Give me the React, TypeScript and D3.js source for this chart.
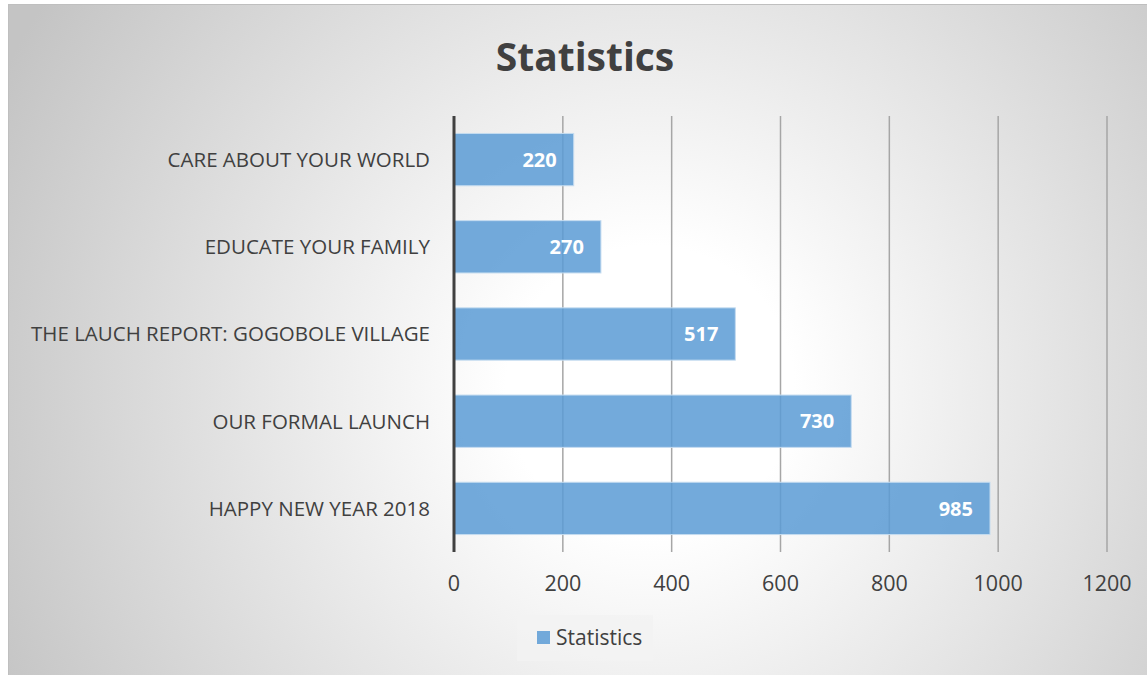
import React from "react";
import * as d3 from "d3";

const categories = [
  "CARE ABOUT YOUR WORLD",
  "EDUCATE YOUR FAMILY",
  "THE LAUCH REPORT: GOGOBOLE VILLAGE",
  "OUR FORMAL LAUNCH",
  "HAPPY NEW YEAR 2018",
];
const values = [220, 270, 517, 730, 985];
const xTicks = [0, 200, 400, 600, 800, 1000, 1200];
const seriesName = "Statistics";
const title = "Statistics";

const W = 1147;
const H = 675;
const FONT = "'Open Sans', 'Noto Sans', sans-serif";

export default function App() {
  const x = d3.scaleLinear().domain([0, 1200]).range([454, 1107]);
  const y = d3
    .scaleBand<string>()
    .domain(categories)
    .range([116, 552])
    .paddingInner(0.4)
    .paddingOuter(0.2);

  return (
    <div style={{ position: "absolute", left: 0, top: 0 }}>
      <svg width={W} height={H} style={{ display: "block" }}>
        <defs>
          <radialGradient id="bg" cx="650" cy="390" r="720" gradientUnits="userSpaceOnUse">
            <stop offset="0" stopColor="#ffffff" />
            <stop offset="0.2" stopColor="#ffffff" />
            <stop offset="1" stopColor="#c4c4c4" />
          </radialGradient>
        </defs>
        <rect x={0} y={0} width={W} height={H} fill="#ffffff" />
        <rect x={8.5} y={4.5} width={W} height={H} fill="url(#bg)" stroke="#bfbfbf" strokeWidth={1} />
        <text
          x={585}
          y={71}
          textAnchor="middle"
          fontFamily={FONT}
          fontWeight="bold"
          fontSize={39}
          fill="#404040"
        >
          {title}
        </text>
        {xTicks.slice(1).map((t) => (
          <line key={t} x1={x(t)} x2={x(t)} y1={116} y2={552} stroke="#a6a6a6" strokeWidth={1.5} />
        ))}
        {categories.map((c, i) => (
          <g key={c}>
            <rect
              x={x(0)}
              y={y(c)!}
              width={x(values[i]) - x(0)}
              height={y.bandwidth()}
              fill="#5b9bd5"
              fillOpacity={0.85}
              stroke="#c5dcf0"
              strokeWidth={1}
            />
            <text
              x={x(values[i]) - 17}
              y={y(c)! + y.bandwidth() / 2}
              dy="0.36em"
              textAnchor="end"
              fontFamily={FONT}
              fontWeight="bold"
              fontSize={20}
              fill="#ffffff"
            >
              {values[i]}
            </text>
            <text
              x={430}
              y={y(c)! + y.bandwidth() / 2}
              dy="0.36em"
              textAnchor="end"
              fontFamily={FONT}
              fontSize={20.5}
              fill="#404040"
            >
              {c}
            </text>
          </g>
        ))}
        <line x1={x(0)} x2={x(0)} y1={116} y2={552} stroke="#404040" strokeWidth={3} />
        {xTicks.map((t) => (
          <text
            key={t}
            x={x(t)}
            y={583}
            dy="0.36em"
            textAnchor="middle"
            fontFamily={FONT}
            fontSize={21.5}
            fill="#404040"
          >
            {t}
          </text>
        ))}
        <rect x={517} y={615} width={136} height={46} fill="#f2f2f2" fillOpacity={0.8} />
        <rect x={537} y={631} width={13} height={13} fill="#5b9bd5" fillOpacity={0.85} />
        <text x={556} y={637.5} dy="0.36em" fontFamily={FONT} fontSize={21} fill="#404040">
          {seriesName}
        </text>
      </svg>
    </div>
  );
}
